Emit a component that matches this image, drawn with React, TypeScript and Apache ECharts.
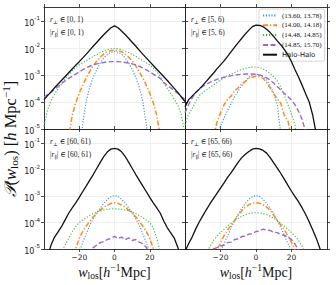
import React, { useEffect, useRef } from 'react';
import * as echarts from 'echarts';

// line-of-sight offset samples (h^-1 Mpc)
const W = [-40,-38,-36,-34,-32,-30,-28,-26,-24,-22,-20,-18,-16,-14,-12,-10,-8,-6,-4,-2,0,2,4,6,8,10,12,14,16,18,20,22,24,26,28,30,32,34,36,38,40];

const SERIES_NAMES = ['(13.60, 13.78)', '(14.00, 14.18)', '(14.48, 14.85)', '(14.85, 15.70)', 'Halo-Halo'];

// log10 P(w_los); -7 = below the plotted range
// panel r_perp in [0,1)
const TL_BLUE = [-7,-7,-7,-7,-7,-7,-7,-7,-7,-7,-6,-4.8,-3.94,-3.44,-3.07,-2.78,-2.54,-2.36,-2.22,-2.15,-2.12,-2.15,-2.22,-2.36,-2.54,-2.78,-3.07,-3.44,-3.94,-4.8,-6,-7,-7,-7,-7,-7,-7,-7,-7,-7,-7];
const TL_ORANGE = [-7,-7,-7,-7,-7,-7,-7,-5.3,-4.5,-4.02,-3.67,-3.37,-3.1,-2.86,-2.65,-2.47,-2.33,-2.21,-2.13,-2.09,-2.07,-2.09,-2.13,-2.21,-2.33,-2.47,-2.65,-2.86,-3.1,-3.37,-3.67,-4.02,-4.5,-5.3,-7,-7,-7,-7,-7,-7,-7];
const TL_GREEN = [-4.9,-4.3,-3.95,-3.7,-3.5,-3.32,-3.14,-2.98,-2.84,-2.72,-2.62,-2.54,-2.46,-2.38,-2.3,-2.23,-2.16,-2.1,-2.05,-2.02,-2.01,-2.02,-2.05,-2.1,-2.16,-2.23,-2.3,-2.38,-2.46,-2.54,-2.62,-2.74,-2.88,-3.05,-3.3,-3.5,-3.7,-3.9,-4.12,-4.5,-5.2];
const TL_PURPLE = [-3.82,-3.72,-3.63,-3.53,-3.42,-3.31,-3.21,-3.12,-3.04,-2.96,-2.88,-2.8,-2.73,-2.67,-2.62,-2.58,-2.55,-2.53,-2.51,-2.5,-2.5,-2.5,-2.51,-2.53,-2.55,-2.58,-2.62,-2.67,-2.73,-2.8,-2.88,-2.96,-3.04,-3.12,-3.28,-3.38,-3.48,-3.58,-3.68,-3.8,-3.9];
const TL_BLACK = [-3.91,-3.76,-3.62,-3.47,-3.33,-3.19,-3.05,-2.91,-2.77,-2.63,-2.5,-2.36,-2.22,-2.07,-1.92,-1.78,-1.63,-1.49,-1.36,-1.24,-1.17,-1.24,-1.36,-1.49,-1.63,-1.78,-1.92,-2.07,-2.22,-2.36,-2.5,-2.64,-2.78,-2.92,-3.06,-3.2,-3.35,-3.5,-3.65,-3.82,-3.98];

// panel r_perp in [5,6)
const TR_BLUE = [-7,-7,-7,-7,-7,-7,-7,-7,-7,-5.3,-4.9,-4.6,-4.3,-4.05,-3.8,-3.58,-3.4,-3.22,-3.08,-3.0,-2.97,-2.98,-3.05,-3.18,-3.4,-3.68,-4.1,-5.2,-7,-7,-7,-7,-7,-7,-7,-7,-7,-7,-7,-7,-7];
const TR_ORANGE = [-7,-7,-7,-7,-7,-7,-7,-7,-5.3,-4.75,-4.4,-4.1,-3.9,-3.78,-3.58,-3.47,-3.32,-3.23,-3.12,-3.08,-3.04,-3.06,-3.12,-3.28,-3.48,-3.7,-3.88,-4.05,-4.5,-4.7,-5.3,-7,-7,-7,-7,-7,-7,-7,-7,-7,-7];
const TR_GREEN = [-4.85,-4.45,-4.25,-3.98,-3.76,-3.65,-3.55,-3.46,-3.37,-3.27,-3.18,-3.1,-3.02,-2.96,-2.9,-2.84,-2.79,-2.75,-2.72,-2.7,-2.7,-2.72,-2.77,-2.84,-2.94,-3.06,-3.22,-3.45,-3.75,-4.1,-4.45,-4.85,-7,-7,-7,-7,-7,-7,-7,-7,-7];
const TR_PURPLE = [-4.4,-4.1,-3.85,-3.65,-3.52,-3.42,-3.34,-3.27,-3.21,-3.16,-3.12,-3.08,-3.05,-3.02,-3.0,-2.98,-2.97,-2.96,-2.96,-2.96,-2.97,-3.0,-3.04,-3.1,-3.18,-3.3,-3.42,-3.55,-3.68,-3.8,-3.93,-4.1,-4.35,-4.65,-5.1,-7,-7,-7,-7,-7,-7];
const TR_BLACK = [-4.18,-3.92,-3.78,-3.65,-3.52,-3.38,-3.23,-3.08,-2.93,-2.77,-2.62,-2.47,-2.3,-2.13,-1.96,-1.79,-1.63,-1.47,-1.33,-1.2,-1.14,-1.15,-1.2,-1.3,-1.42,-1.57,-1.73,-1.88,-2.05,-2.25,-2.5,-2.8,-3.08,-3.38,-3.7,-4.0,-4.5,-5.2,-7,-7,-7];

// panel r_perp in [60,61)
const BL_BLUE = [-7,-7,-7,-7,-7,-7,-7,-7,-7,-7,-5.1,-4.75,-4.42,-4.1,-3.85,-3.62,-3.45,-3.27,-3.13,-3.02,-2.98,-3.02,-3.13,-3.27,-3.45,-3.62,-3.85,-4.1,-4.42,-4.75,-5.1,-7,-7,-7,-7,-7,-7,-7,-7,-7,-7];
const BL_ORANGE = [-7,-7,-7,-7,-7,-7,-7,-7,-5.4,-4.98,-4.6,-4.33,-4.13,-3.95,-3.78,-3.65,-3.53,-3.42,-3.34,-3.28,-3.25,-3.28,-3.34,-3.42,-3.53,-3.65,-3.78,-3.95,-4.13,-4.33,-4.6,-4.98,-5.4,-7,-7,-7,-7,-7,-7,-7,-7];
const BL_GREEN = [-7,-7,-7,-7,-7,-5.1,-4.85,-4.6,-4.35,-4.15,-4.0,-3.91,-3.82,-3.73,-3.66,-3.6,-3.56,-3.53,-3.5,-3.49,-3.48,-3.49,-3.5,-3.53,-3.56,-3.6,-3.66,-3.73,-3.82,-3.91,-4.0,-4.2,-4.6,-5.1,-7,-7,-7,-7,-7,-7,-7];
const BL_PURPLE = [-7,-7,-7,-7,-7,-7,-7,-7,-7,-7,-7,-7,-7,-5.1,-4.95,-4.85,-4.76,-4.72,-4.64,-4.6,-4.52,-4.6,-4.55,-4.65,-4.58,-4.68,-4.64,-4.74,-4.8,-4.93,-5.2,-7,-7,-7,-7,-7,-7,-7,-7,-7,-7];
const BL_BLACK = [-7,-5.3,-4.85,-4.55,-4.35,-4.15,-3.9,-3.65,-3.45,-3.26,-3.05,-2.83,-2.62,-2.4,-2.18,-1.95,-1.72,-1.5,-1.33,-1.23,-1.2,-1.23,-1.33,-1.5,-1.72,-1.95,-2.18,-2.4,-2.62,-2.83,-3.05,-3.26,-3.45,-3.65,-3.95,-4.2,-4.4,-4.6,-4.95,-5.5,-7];

// panel r_perp in [65,66)
const BR_BLUE = [-7,-7,-7,-7,-7,-7,-7,-7,-7,-7,-5.05,-4.8,-4.5,-4.2,-3.92,-3.68,-3.47,-3.28,-3.12,-3.02,-2.98,-3.02,-3.12,-3.28,-3.47,-3.68,-3.92,-4.2,-4.5,-4.8,-5.05,-7,-7,-7,-7,-7,-7,-7,-7,-7,-7];
const BR_ORANGE = [-7,-7,-7,-7,-7,-7,-7,-7,-7,-5.05,-4.75,-4.5,-4.28,-4.1,-3.92,-3.73,-3.55,-3.42,-3.33,-3.27,-3.25,-3.27,-3.33,-3.42,-3.55,-3.73,-3.92,-4.1,-4.28,-4.5,-4.75,-5.05,-7,-7,-7,-7,-7,-7,-7,-7,-7];
const BR_GREEN = [-7,-7,-7,-7,-7,-7,-5.2,-4.9,-4.68,-4.52,-4.38,-4.25,-4.14,-4.03,-3.93,-3.84,-3.76,-3.7,-3.66,-3.64,-3.63,-3.64,-3.66,-3.7,-3.76,-3.84,-3.93,-4.03,-4.14,-4.25,-4.38,-4.52,-4.68,-4.9,-5.2,-7,-7,-7,-7,-7,-7];
const BR_PURPLE = [-7,-7,-7,-7,-7,-7,-7,-5.3,-5.0,-4.95,-4.88,-4.86,-4.76,-4.74,-4.64,-4.62,-4.53,-4.52,-4.44,-4.42,-4.34,-4.32,-4.25,-4.29,-4.3,-4.37,-4.38,-4.46,-4.48,-4.56,-4.64,-4.82,-5.05,-5.4,-7,-7,-7,-7,-7,-7,-7];
const BR_BLACK = [-5.1,-4.8,-4.55,-4.25,-3.98,-3.75,-3.52,-3.3,-3.1,-2.9,-2.7,-2.5,-2.3,-2.12,-1.92,-1.72,-1.55,-1.42,-1.32,-1.23,-1.2,-1.22,-1.28,-1.38,-1.55,-1.75,-1.95,-2.15,-2.37,-2.6,-2.82,-3.02,-3.22,-3.45,-3.7,-3.98,-4.28,-4.6,-4.98,-5.4,-7];

const PANELS = [
  { perp: '[0, 1)', par: '[0, 1)', curves: [TL_BLUE, TL_ORANGE, TL_GREEN, TL_PURPLE, TL_BLACK] },
  { perp: '[5, 6)', par: '[5, 6)', curves: [TR_BLUE, TR_ORANGE, TR_GREEN, TR_PURPLE, TR_BLACK] },
  { perp: '[60, 61)', par: '[60, 61)', curves: [BL_BLUE, BL_ORANGE, BL_GREEN, BL_PURPLE, BL_BLACK] },
  { perp: '[65, 66)', par: '[65, 66)', curves: [BR_BLUE, BR_ORANGE, BR_GREEN, BR_PURPLE, BR_BLACK] },
];

const X_TICKS_MIN = -40;
const X_TICKS_MAX = 40;
const X_TICK_STEP = 20;
const Y_MIN = 1e-5;
const Y_MAX = Math.pow(10, -0.47);

const GRIDS = [
  { left: 44, top: 7, width: 141, height: 122 },
  { left: 185, top: 7, width: 142, height: 122 },
  { left: 44, top: 129, width: 141, height: 120 },
  { left: 185, top: 129, width: 142, height: 120 },
];

const STYLES = [
  { color: '#3d8fd6', width: 1.1, type: [1.2, 1.6] },
  { color: '#ff8a1c', width: 1.5, type: [5, 2, 1.3, 2] },
  { color: '#3db83a', width: 1.1, type: [1.2, 1.8] },
  { color: '#9a68cf', width: 1.4, type: [5, 2.5] },
  { color: '#111111', width: 1.3, type: 'solid' },
];

const SERIF = "'Liberation Serif', 'DejaVu Serif', serif";
const SANS = "'DejaVu Sans', sans-serif";
const SPINE = '#222222';

export default function App() {
  const ref = useRef<HTMLDivElement>(null);
  useEffect(() => {
    if (!ref.current) return;
    const chart = echarts.init(ref.current, undefined, { renderer: 'svg' });

    const xAxis: any[] = [];
    const yAxis: any[] = [];
    GRIDS.forEach((_, i) => {
      const bottomRow = i >= 2;
      xAxis.push({
        type: 'value', gridIndex: i, position: 'bottom',
        min: X_TICKS_MIN, max: X_TICKS_MAX, interval: X_TICK_STEP,
        axisLine: { show: true, onZero: false, lineStyle: { color: SPINE, width: 0.9 } },
        axisTick: { show: true, length: 3, lineStyle: { color: SPINE, width: 0.8 } },
        axisLabel: {
          show: bottomRow, showMinLabel: false, showMaxLabel: false, margin: 4,
          fontSize: 7.5, fontFamily: SANS, color: '#222',
          formatter: (v: number) => String(v).replace('-', '\u2212'),
        },
        splitLine: { show: true, lineStyle: { color: '#ebebeb', width: 0.8 } },
      });
    });
    GRIDS.forEach((_, i) => {
      xAxis.push({
        type: 'value', gridIndex: i, position: 'top',
        min: X_TICKS_MIN, max: X_TICKS_MAX, interval: X_TICK_STEP,
        axisLine: { show: true, onZero: false, lineStyle: { color: SPINE, width: 0.9 } },
        axisTick: { show: true, length: 3, lineStyle: { color: SPINE, width: 0.8 } },
        axisLabel: { show: false },
        splitLine: { show: false },
      });
    });
    GRIDS.forEach((_, i) => {
      const leftCol = i % 2 === 0;
      yAxis.push({
        type: 'log', logBase: 10, gridIndex: i, position: 'left',
        min: Y_MIN, max: Y_MAX,
        axisLine: { show: true, onZero: false, lineStyle: { color: SPINE, width: 0.9 } },
        axisTick: { show: true, length: 3, lineStyle: { color: SPINE, width: 0.8 } },
        minorTick: { show: false },
        axisLabel: {
          show: leftCol, showMaxLabel: false, margin: 4,
          formatter: (v: number) => {
            const e = Math.log10(v);
            const r = Math.round(e);
            if (Math.abs(e - r) > 1e-6) return '';
            return `{b|10}{s|${r}}`;
          },
          rich: {
            b: { fontSize: 8, fontFamily: SANS, color: '#222', lineHeight: 12, verticalAlign: 'bottom' },
            s: { fontSize: 5.6, fontFamily: SANS, color: '#222', lineHeight: 7, verticalAlign: 'top' },
          },
        },
        splitLine: { show: true, lineStyle: { color: '#ebebeb', width: 0.8 } },
      });
    });
    GRIDS.forEach((_, i) => {
      yAxis.push({
        type: 'log', logBase: 10, gridIndex: i, position: 'right',
        min: Y_MIN, max: Y_MAX,
        axisLine: { show: true, onZero: false, lineStyle: { color: SPINE, width: 0.9 } },
        axisTick: { show: true, length: 3, lineStyle: { color: SPINE, width: 0.8 } },
        axisLabel: { show: false },
        splitLine: { show: false },
      });
    });

    const series: any[] = [];
    PANELS.forEach((p, pi) => {
      p.curves.forEach((arr, ci) => {
        const st = STYLES[ci];
        series.push({
          type: 'line', name: SERIES_NAMES[ci],
          xAxisIndex: pi, yAxisIndex: pi,
          data: W.map((w, k) => [w, Math.pow(10, arr[k])]),
          symbol: 'none', showSymbol: false, clip: true, z: 2 + ci,
          lineStyle: { color: st.color, width: st.width, type: st.type },
          itemStyle: { color: st.color },
          emphasis: { disabled: true },
        });
      });
    });

    const graphic: any[] = [];
    const annRich = {
      n: { fontSize: 7.5, fontFamily: SERIF, fill: '#222', lineHeight: 10 },
      i: { fontSize: 7.5, fontFamily: SERIF, fontStyle: 'italic', fill: '#222', lineHeight: 10 },
      sub: { fontSize: 5.2, fontFamily: SERIF, fill: '#222', lineHeight: 6, verticalAlign: 'bottom' },
    };
    PANELS.forEach((p, pi) => {
      const g = GRIDS[pi];
      const x = g.left + 6;
      graphic.push({
        type: 'text', x, y: g.top + 12, z: 100,
        style: { text: `{i|r}{sub|\u22A5}{n| \u2208 ${p.perp}}`, rich: annRich, align: 'left', verticalAlign: 'middle' },
      });
      graphic.push({
        type: 'text', x, y: g.top + 25, z: 100,
        style: { text: `{n||}{i|r}{sub|\u2225}{n|| \u2208 ${p.par}}`, rich: annRich, align: 'left', verticalAlign: 'middle' },
      });
    });

    const mkRich = (fs: number, lh: number) => ({
      n: { fontSize: fs, fontFamily: SERIF, fill: '#111', lineHeight: fs * lh },
      i: { fontSize: fs, fontFamily: SERIF, fontStyle: 'italic', fill: '#111', lineHeight: fs * lh },
      p: { fontSize: fs, fontFamily: "'DejaVu Serif', serif", fontStyle: 'italic', fill: '#111', lineHeight: fs * lh },
      sub: { fontSize: fs * 0.68, fontFamily: SERIF, fill: '#111', lineHeight: fs * 0.68, verticalAlign: 'bottom' },
      sup: { fontSize: fs * 0.68, fontFamily: SERIF, fill: '#111', lineHeight: fs * 0.68, verticalAlign: 'top' },
    });
    [2, 3].forEach((pi) => {
      const g = GRIDS[pi];
      graphic.push({
        type: 'text', x: g.left + g.width / 2, y: 272,
        style: { text: '{i|w}{sub|los}{n|[}{i|h}{sup|\u22121}{n|Mpc]}', rich: mkRich(14, 1.3), align: 'center', verticalAlign: 'middle' },
      });
    });
    graphic.push({
      type: 'text', x: 10, y: 139, rotation: Math.PI / 2,
      style: { text: '{p|\uD835\uDCAB}{n|(}{i|w}{sub|los}{n|) [}{i|h}{n| Mpc}{sup|\u22121}{n|]}', rich: mkRich(16.5, 1.1), align: 'center', verticalAlign: 'middle' },
    });

    chart.setOption({
      animation: false,
      backgroundColor: '#ffffff',
      grid: GRIDS.map((g) => ({ ...g, containLabel: false })),
      xAxis, yAxis, series, graphic,
      legend: {
        show: true, orient: 'vertical', left: 259, top: 9,
        selectedMode: false,
        itemWidth: 14, itemHeight: 8, itemGap: 2.8,
        padding: [3, 3, 3, 3],
        backgroundColor: 'rgba(255,255,255,0.85)',
        borderColor: '#cccccc', borderWidth: 0.8, borderRadius: 2,
        itemStyle: { opacity: 0 },
        data: SERIES_NAMES.map((n, i) => ({
          name: n,
          textStyle: i === 4
            ? { fontFamily: SANS, fontSize: 6.8, color: '#111' }
            : { fontFamily: SERIF, fontSize: 7, color: '#111' },
        })),
      },
    });
    return () => chart.dispose();
  }, []);
  return <div ref={ref} style={{ position: 'fixed', left: 0, top: 0, width: 336, height: 285 }} />;
}
